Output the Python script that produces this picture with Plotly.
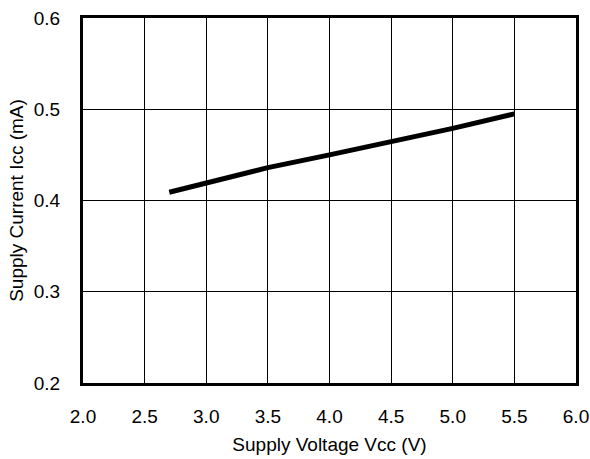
import plotly.graph_objects as go

vcc = [2.7, 3.0, 3.3, 3.5, 4.0, 4.5, 5.0, 5.5]
icc = [0.409, 0.419, 0.429, 0.436, 0.450, 0.464, 0.479, 0.495]

x_ticks = [2.0, 2.5, 3.0, 3.5, 4.0, 4.5, 5.0, 5.5, 6.0]
x_tick_labels = ["2.0", "2.5", "3.0", "3.5", "4.0", "4.5", "5.0", "5.5", "6.0"]
y_ticks = [0.2, 0.3, 0.4, 0.5, 0.6]
y_tick_labels = ["0.2", "0.3", "0.4", "0.5", "0.6"]

font = "Liberation Sans, Arial, sans-serif"

fig = go.Figure()
fig.add_trace(go.Scatter(x=vcc, y=icc, mode="lines",
                         line=dict(color="black", width=5),
                         showlegend=False, cliponaxis=False))

fig.update_layout(
    template="none",
    width=590, height=459,
    margin=dict(l=83, r=14, t=18, b=76),
    paper_bgcolor="white", plot_bgcolor="white",
    font=dict(family=font, size=19, color="black"),
)
fig.update_xaxes(
    automargin=False,
    range=[2.0, 6.0], tickvals=x_ticks, ticktext=x_tick_labels,
    showgrid=True, gridcolor="black", gridwidth=1,
    showline=True, linecolor="black", linewidth=3, mirror=True,
    zeroline=False, ticks="", ticklabelstandoff=14,
    title=dict(text="Supply Voltage Vcc (V)", standoff=12, font=dict(size=19)),
)
fig.update_yaxes(
    automargin=False,
    range=[0.2, 0.6], tickvals=y_ticks, ticktext=y_tick_labels,
    showgrid=True, gridcolor="black", gridwidth=1,
    showline=True, linecolor="black", linewidth=3, mirror=True,
    zeroline=False, ticks="", ticklabelstandoff=16,
    title=dict(text="Supply Current Icc (mA)", standoff=6, font=dict(size=19)),
)

fig.write_html(
    "out.html",
    config={"displayModeBar": False},
    post_script="document.body.style.margin='0';document.body.style.overflow='hidden';",
)
